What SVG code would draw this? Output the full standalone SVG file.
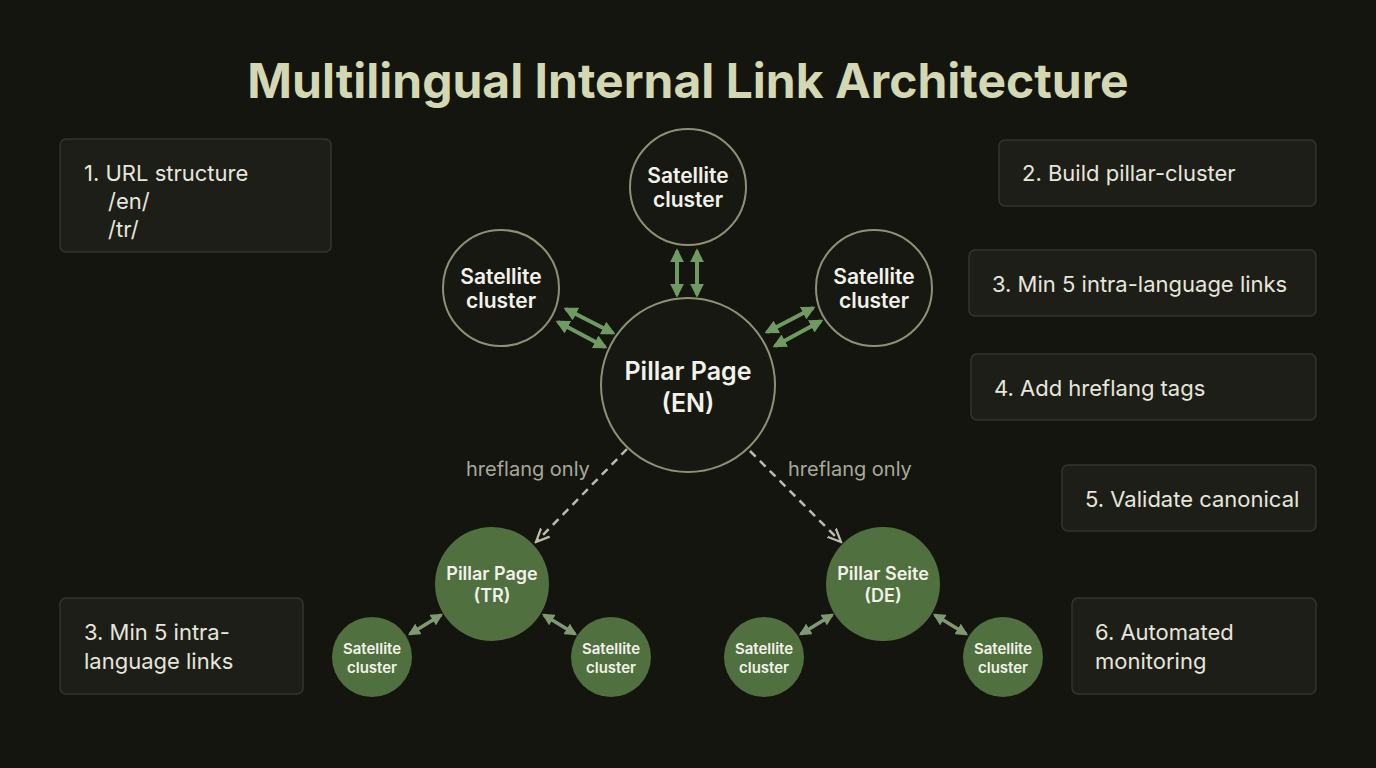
<svg xmlns="http://www.w3.org/2000/svg" width="1376" height="768" viewBox="0 0 1376 768">
<style>
.box{fill:#1d1e17;stroke:#34352c;stroke-width:1.5}
.bt{font-family:Inter,"Liberation Sans",sans-serif;font-size:22px;fill:#e6e6dc}
.dc{fill:#171812;stroke:#8c9276;stroke-width:2}
.gc{fill:#50703f}
.nt{font-family:Inter,"Liberation Sans",sans-serif;font-weight:600;fill:#f2f2ea;text-anchor:middle}
.ga{stroke:#6f9a62;stroke-width:4;fill:none;marker-start:url(#ga);marker-end:url(#ga)}
.sa{stroke:#7f9a72;stroke-width:3.5;fill:none;marker-start:url(#sa);marker-end:url(#sa)}
.da{stroke:#bcbcae;stroke-width:2.5;stroke-dasharray:8 6;fill:none;marker-end:url(#da)}
.lab{font-family:Inter,"Liberation Sans",sans-serif;font-size:20px;fill:#a8a99c}
</style>
<defs>
<marker id="ga" viewBox="0 0 10 10" refX="8" refY="5" markerWidth="3.5" markerHeight="3.5" orient="auto-start-reverse" markerUnits="strokeWidth"><path d="M0,0 L10,5 L0,10 Z" fill="#6f9a62"/></marker>
<marker id="sa" viewBox="0 0 10 10" refX="8" refY="5" markerWidth="3.5" markerHeight="3.5" orient="auto-start-reverse" markerUnits="strokeWidth"><path d="M0,0 L10,5 L0,10 Z" fill="#7f9a72"/></marker>
<marker id="da" viewBox="0 0 10 10" refX="8" refY="5" markerWidth="6" markerHeight="6" orient="auto" markerUnits="strokeWidth"><path d="M0,1 L9,5 L0,9" fill="none" stroke="#bcbcae" stroke-width="1.5"/></marker>
</defs>
<rect width="1376" height="768" fill="#14150f"/>
<text x="688" y="98" text-anchor="middle" font-family="Inter,'Liberation Sans',sans-serif" font-weight="700" font-size="48" fill="#d3d8b3">Multilingual Internal Link Architecture</text>

<g id="step1"><rect class="box" x="60" y="139" width="271" height="113" rx="6"/><text class="bt" x="84" y="181">1. URL structure</text><text class="bt" x="108" y="209" fill="#c8c8bc">/en/</text><text class="bt" x="108" y="237">/tr/</text></g>
<g id="step2"><rect class="box" x="999" y="140" width="317" height="66" rx="6"/><text class="bt" x="1022" y="181">2. Build pillar-cluster</text></g>
<g id="step3"><rect class="box" x="969" y="250" width="347" height="66" rx="6"/><text class="bt" x="992" y="292">3. Min 5 intra-language links</text></g>
<g id="step4"><rect class="box" x="971" y="354" width="345" height="66" rx="6"/><text class="bt" x="994" y="396">4. Add hreflang tags</text></g>
<g id="step5"><rect class="box" x="1062" y="465" width="254" height="66" rx="6"/><text class="bt" x="1085" y="507">5. Validate canonical</text></g>
<g id="step3b"><rect class="box" x="60" y="598" width="243" height="96" rx="6"/><text class="bt" x="84" y="640">3. Min 5 intra-</text><text class="bt" x="84" y="669">language links</text></g>
<g id="step6"><rect class="box" x="1072" y="598" width="244" height="96" rx="6"/><text class="bt" x="1095" y="640">6. Automated</text><text class="bt" x="1095" y="669">monitoring</text></g>

<g id="connectors">
<line class="ga" x1="677" y1="251" x2="677" y2="295"/>
<line class="ga" x1="697" y1="251" x2="697" y2="295"/>
<line class="ga" x1="566" y1="309" x2="613" y2="333"/>
<line class="ga" x1="558" y1="322" x2="605" y2="347"/>
<line class="ga" x1="767" y1="332" x2="813" y2="308"/>
<line class="ga" x1="775" y1="346" x2="821" y2="321"/>
<line class="da" x1="627" y1="449" x2="537" y2="541"/>
<line class="da" x1="750" y1="451" x2="840" y2="541"/>
<line class="sa" x1="410" y1="634" x2="441" y2="615"/>
<line class="sa" x1="544" y1="615" x2="575" y2="634"/>
<line class="sa" x1="801" y1="634" x2="832" y2="615"/>
<line class="sa" x1="935" y1="615" x2="966" y2="634"/>
<text class="lab" x="466" y="476">hreflang only</text>
<text class="lab" x="788" y="476">hreflang only</text>
</g>

<g id="sat-top"><circle class="dc" cx="688" cy="187" r="58"/><text class="nt" font-size="21" x="688" y="183">Satellite</text><text class="nt" font-size="21" x="688" y="207">cluster</text></g>
<g id="sat-left"><circle class="dc" cx="501" cy="288" r="58"/><text class="nt" font-size="21" x="501" y="284">Satellite</text><text class="nt" font-size="21" x="501" y="308">cluster</text></g>
<g id="sat-right"><circle class="dc" cx="874" cy="288" r="58"/><text class="nt" font-size="21" x="874" y="284">Satellite</text><text class="nt" font-size="21" x="874" y="308">cluster</text></g>
<g id="pillar-en"><circle class="dc" cx="688" cy="385" r="87"/><text class="nt" font-size="25" x="688" y="380">Pillar Page</text><text class="nt" font-size="25" x="688" y="412">(EN)</text></g>

<g id="pillar-tr"><circle class="gc" cx="492" cy="584" r="57"/><text class="nt" font-size="18" x="492" y="580">Pillar Page</text><text class="nt" font-size="18" x="492" y="602">(TR)</text></g>
<g id="pillar-de"><circle class="gc" cx="883" cy="584" r="57"/><text class="nt" font-size="18" x="883" y="580">Pillar Seite</text><text class="nt" font-size="18" x="883" y="602">(DE)</text></g>
<g id="sat-tr-1"><circle class="gc" cx="372" cy="657" r="40"/><text class="nt" font-size="15" font-weight="500" x="372" y="654">Satellite</text><text class="nt" font-size="15" font-weight="500" x="372" y="673">cluster</text></g>
<g id="sat-tr-2"><circle class="gc" cx="611" cy="657" r="40"/><text class="nt" font-size="15" font-weight="500" x="611" y="654">Satellite</text><text class="nt" font-size="15" font-weight="500" x="611" y="673">cluster</text></g>
<g id="sat-de-1"><circle class="gc" cx="764" cy="657" r="40"/><text class="nt" font-size="15" font-weight="500" x="764" y="654">Satellite</text><text class="nt" font-size="15" font-weight="500" x="764" y="673">cluster</text></g>
<g id="sat-de-2"><circle class="gc" cx="1003" cy="657" r="40"/><text class="nt" font-size="15" font-weight="500" x="1003" y="654">Satellite</text><text class="nt" font-size="15" font-weight="500" x="1003" y="673">cluster</text></g>
</svg>
